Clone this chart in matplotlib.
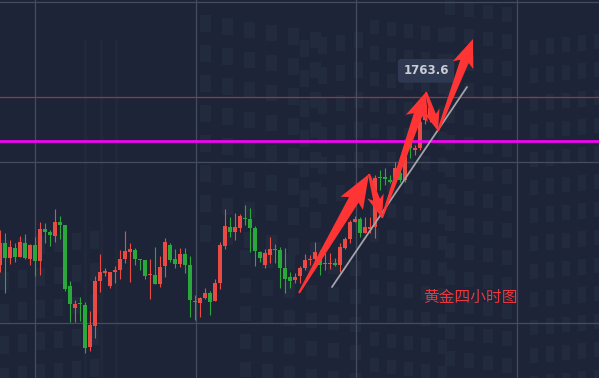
import matplotlib
matplotlib.use("Agg")
import matplotlib.pyplot as plt
from matplotlib.patches import Polygon, Rectangle
import numpy as np

# ---------------- data (4-hour gold candles) ----------------
opens = [1721.75, 1727.25, 1723.5, 1726, 1723.75, 1727.25, 1723.25, 1726.75, 1722.75, 1730.75,
         1730, 1729, 1732.5, 1731.75, 1716.5, 1711, 1712.25, 1711.75, 1701.25, 1706.5,
         1717.75, 1719.75, 1716.5, 1720, 1720.5, 1723.25, 1725, 1725.5, 1723.25, 1723,
         1719.25, 1719.25, 1717, 1721.5, 1726.75, 1723.25, 1722, 1724.5, 1721.75, 1712.75,
         1712.25, 1713.5, 1714.75, 1712.75, 1717.25, 1726.5, 1731.25, 1730, 1731, 1733.5,
         1733.25, 1731, 1725, 1721.75, 1724.25, 1725.75, 1725.5, 1721, 1718.75, 1718,
         1719, 1721, 1723, 1723.25, 1723.5, 1722, 1722, 1722.25, 1721.75, 1726,
         1728.25, 1732.5, 1733.25, 1729.75, 1730.75, 1731.25, 1743.75, 1743.75, 1743, 1743.5,
         1744.75, 1743, 1752.25, 1750.5, 1751, 1758, 1759]
highs = [1730.5, 1729.75, 1728, 1727.25, 1729, 1729.5, 1727, 1728.75, 1732.5, 1732.25,
         1730.5, 1735.75, 1734, 1731.75, 1717.75, 1713, 1713.75, 1712.5, 1710.25, 1719,
         1724.5, 1721, 1720, 1721.5, 1725.5, 1730.25, 1727.25, 1726, 1723.25, 1723,
         1723.25, 1726.25, 1724, 1728.5, 1727.25, 1725.75, 1726, 1726, 1724, 1714.25,
         1713.75, 1716, 1715.25, 1718.25, 1727.5, 1735.75, 1733.75, 1734.75, 1734.5, 1736.75,
         1736, 1731.5, 1725.25, 1725.75, 1728.75, 1727, 1726.25, 1726, 1720, 1719.75,
         1721.5, 1724.5, 1724.25, 1727.5, 1725.5, 1724.75, 1724.75, 1723.5, 1727.25, 1728.75,
         1733, 1734, 1733.75, 1733.75, 1733.75, 1744.25, 1745.5, 1746, 1744.25, 1747.5,
         1746.75, 1750.5, 1752.5, 1751.75, 1758.5, 1763.75, 1762]
lows = [1720, 1714.75, 1722, 1722.5, 1723.75, 1723.25, 1721.75, 1719, 1719.25, 1727.25,
        1726.5, 1727.5, 1728.25, 1715.25, 1707.5, 1707.5, 1707.75, 1699.75, 1700.25, 1703.5,
        1715, 1719, 1716, 1717.25, 1718.25, 1722.25, 1717.5, 1721.75, 1720.5, 1718.25,
        1713.25, 1717, 1716.25, 1718.75, 1722.5, 1721, 1721.25, 1719.75, 1708.75, 1708,
        1708.75, 1713.25, 1709.25, 1712.75, 1715.75, 1725.75, 1728.75, 1728, 1730, 1731.75,
        1725, 1721.5, 1722.5, 1721, 1722.25, 1722.25, 1716, 1714.75, 1716, 1717.25,
        1717.25, 1720.5, 1721.75, 1721.25, 1719.25, 1720.5, 1720.75, 1721.5, 1720, 1725.75,
        1727.25, 1732.5, 1728.75, 1729.75, 1729.75, 1728.5, 1740.5, 1741.75, 1742.25, 1742.5,
        1742.5, 1742.5, 1748.5, 1749.25, 1750.5, 1757, 1757.5]
closes = [1727.25, 1723.5, 1726.25, 1723.75, 1727.5, 1723.5, 1726.75, 1722.75, 1730.75, 1730,
          1729.25, 1732.5, 1731.75, 1715.75, 1712, 1712, 1712, 1701, 1706.75, 1717.75,
          1720, 1720.25, 1720, 1720.5, 1723.25, 1725.25, 1725.75, 1723.25, 1723, 1719,
          1719.5, 1717, 1721.25, 1727.5, 1723, 1722, 1724.5, 1721.75, 1713, 1712.5,
          1713.5, 1714.75, 1712.5, 1717.25, 1726.75, 1731.5, 1730, 1731.25, 1734, 1733.25,
          1731, 1725.25, 1723.5, 1724.75, 1725.75, 1725.5, 1721, 1718.25, 1717.75, 1718.75,
          1721, 1723, 1723.25, 1725, 1721.75, 1722.25, 1722.25, 1721.75, 1726.25, 1728.25,
          1732.5, 1733.25, 1729.75, 1731.25, 1731.25, 1743.5, 1743.5, 1743.25, 1742.5, 1746,
          1743, 1748.75, 1751, 1751, 1757.5, 1761.75, 1761]

high_label = "1763.6"
key_level = 1752.75
grid_prices = [1707.25, 1747.5, 1787.5]
grid_bars = [7, 39.2, 71.2, 103.4]
trend_x = [66.4, 93.4]
trend_y = [1716.25, 1766.25]
# hand-drawn arrow path (bar index, price)
arrow_path = [(59.8, 1714.75), (73.8, 1744.5), (76.4, 1733.5), (85.2, 1765.0),
              (87.6, 1755.25), (94.6, 1778.25)]
title_text = "黄金四小时图"

# ---------------- style ----------------
BG = "#1d2437"
GRID = "#454c5f"
UP = "#ea4a44"
DOWN = "#2aa83b"
ARROW = "#ff3535"

W, H = 599, 378
fig = plt.figure(figsize=(W / 100, H / 100), dpi=100, facecolor=BG)

# faint background "building" windows (decoration only)
deco = fig.add_axes([0, 0, 1, 1], zorder=-1)
deco.set_xlim(0, W); deco.set_ylim(H, 0); deco.axis("off")
win = "#222a3d"
blocks = [(200, 330, 15, 250, 22, 30, 0.15), (240, 360, 250, 378, 22, 28, 0.1),
          (300, 355, 40, 200, 18, 30, -0.15), (370, 440, 20, 378, 17, 26, 0.12),
          (445, 520, 0, 378, 19, 27, 0.12), (530, 599, 40, 378, 16, 28, -0.1),
          (0, 100, 240, 378, 18, 32, -0.1)]
for cx0, cx1, cy0, cy1, dx, dy, sk in blocks:
    for xx in np.arange(cx0, cx1, dx):
        for yy in np.arange(cy0, cy1, dy):
            deco.add_patch(Rectangle((xx, yy + (xx - cx0) * sk), dx * 0.5, dy * 0.55,
                                     color=win, lw=0))
for xx in [84, 100, 115]:
    deco.add_patch(Rectangle((xx, 40), 3, 338, color="#212839", lw=0))

ax = fig.add_axes([0, 0, 1, 1])
ax.patch.set_alpha(0)
ax.set_xlim(0, 119.8)
ax.set_ylim(1693.5, 1788)

# grid
ax.set_xticks(grid_bars)
ax.set_yticks(grid_prices)
ax.grid(True, color=GRID, lw=0.9)
ax.tick_params(length=0, labelbottom=False, labelleft=False)
for s in ax.spines.values():
    s.set_visible(False)

# candles
x = np.arange(len(opens))
o = np.array(opens); c = np.array(closes)
cols = [UP if cc > oo else DOWN for oo, cc in zip(o, c)]
ax.vlines(x, lows, highs, colors=cols, lw=0.8, zorder=3)
body_h = np.maximum(np.abs(c - o), 0.3)
ax.bar(x, body_h, bottom=np.minimum(o, c), width=0.62, color=cols, lw=0, zorder=3)

# lines
ax.axhline(max(highs), color="#8e3b3f", lw=0.9, zorder=2)
ax.axhline(key_level, color="#ff00ff", lw=1.9, zorder=4)
ax.plot(trend_x, trend_y, color="#a3a3a8", lw=1.3, zorder=5, solid_capstyle="round")

# arrows
def arrow_poly(p0, p1, hl, hw, sw, tw=2.0):
    a = np.array(ax.transData.transform(p0))
    b = np.array(ax.transData.transform(p1))
    d = b - a
    L = np.hypot(*d)
    d = d / L
    n = np.array([-d[1], d[0]])
    hb = b - d * hl
    pts = [a + n * tw / 2, hb + n * sw / 2, hb - d * 4 + n * hw / 2, b,
           hb - d * 4 - n * hw / 2, hb - n * sw / 2, a - n * tw / 2]
    return Polygon(pts, closed=True, transform=None, color=ARROW, lw=0, zorder=6)

specs = [(30, 26, 11), (19, 17, 7), (24, 23, 9), (17, 16, 6), (24, 22, 9)]
for k, (hl, hw, sw) in enumerate(specs):
    fig.patches.append(arrow_poly(arrow_path[k], arrow_path[k + 1], hl, hw, sw))

# high tooltip
tx, ty = arrow_path[3][0], 1770.3
ax.text(tx, ty, high_label, ha="center", va="center", fontsize=8.5, fontweight="bold",
        color="#c9cdd6", family="DejaVu Sans", zorder=8,
        bbox=dict(boxstyle="round,pad=0.45,rounding_size=0.25", fc="#2e3850", ec="none"))

ax.text(94, 1713.75, title_text, ha="center", va="center", fontsize=11.3,
        color="#e8383d", family=["Noto Sans CJK SC", "DejaVu Sans"], zorder=8)

fig.savefig("out.png", dpi=100, facecolor=BG)
